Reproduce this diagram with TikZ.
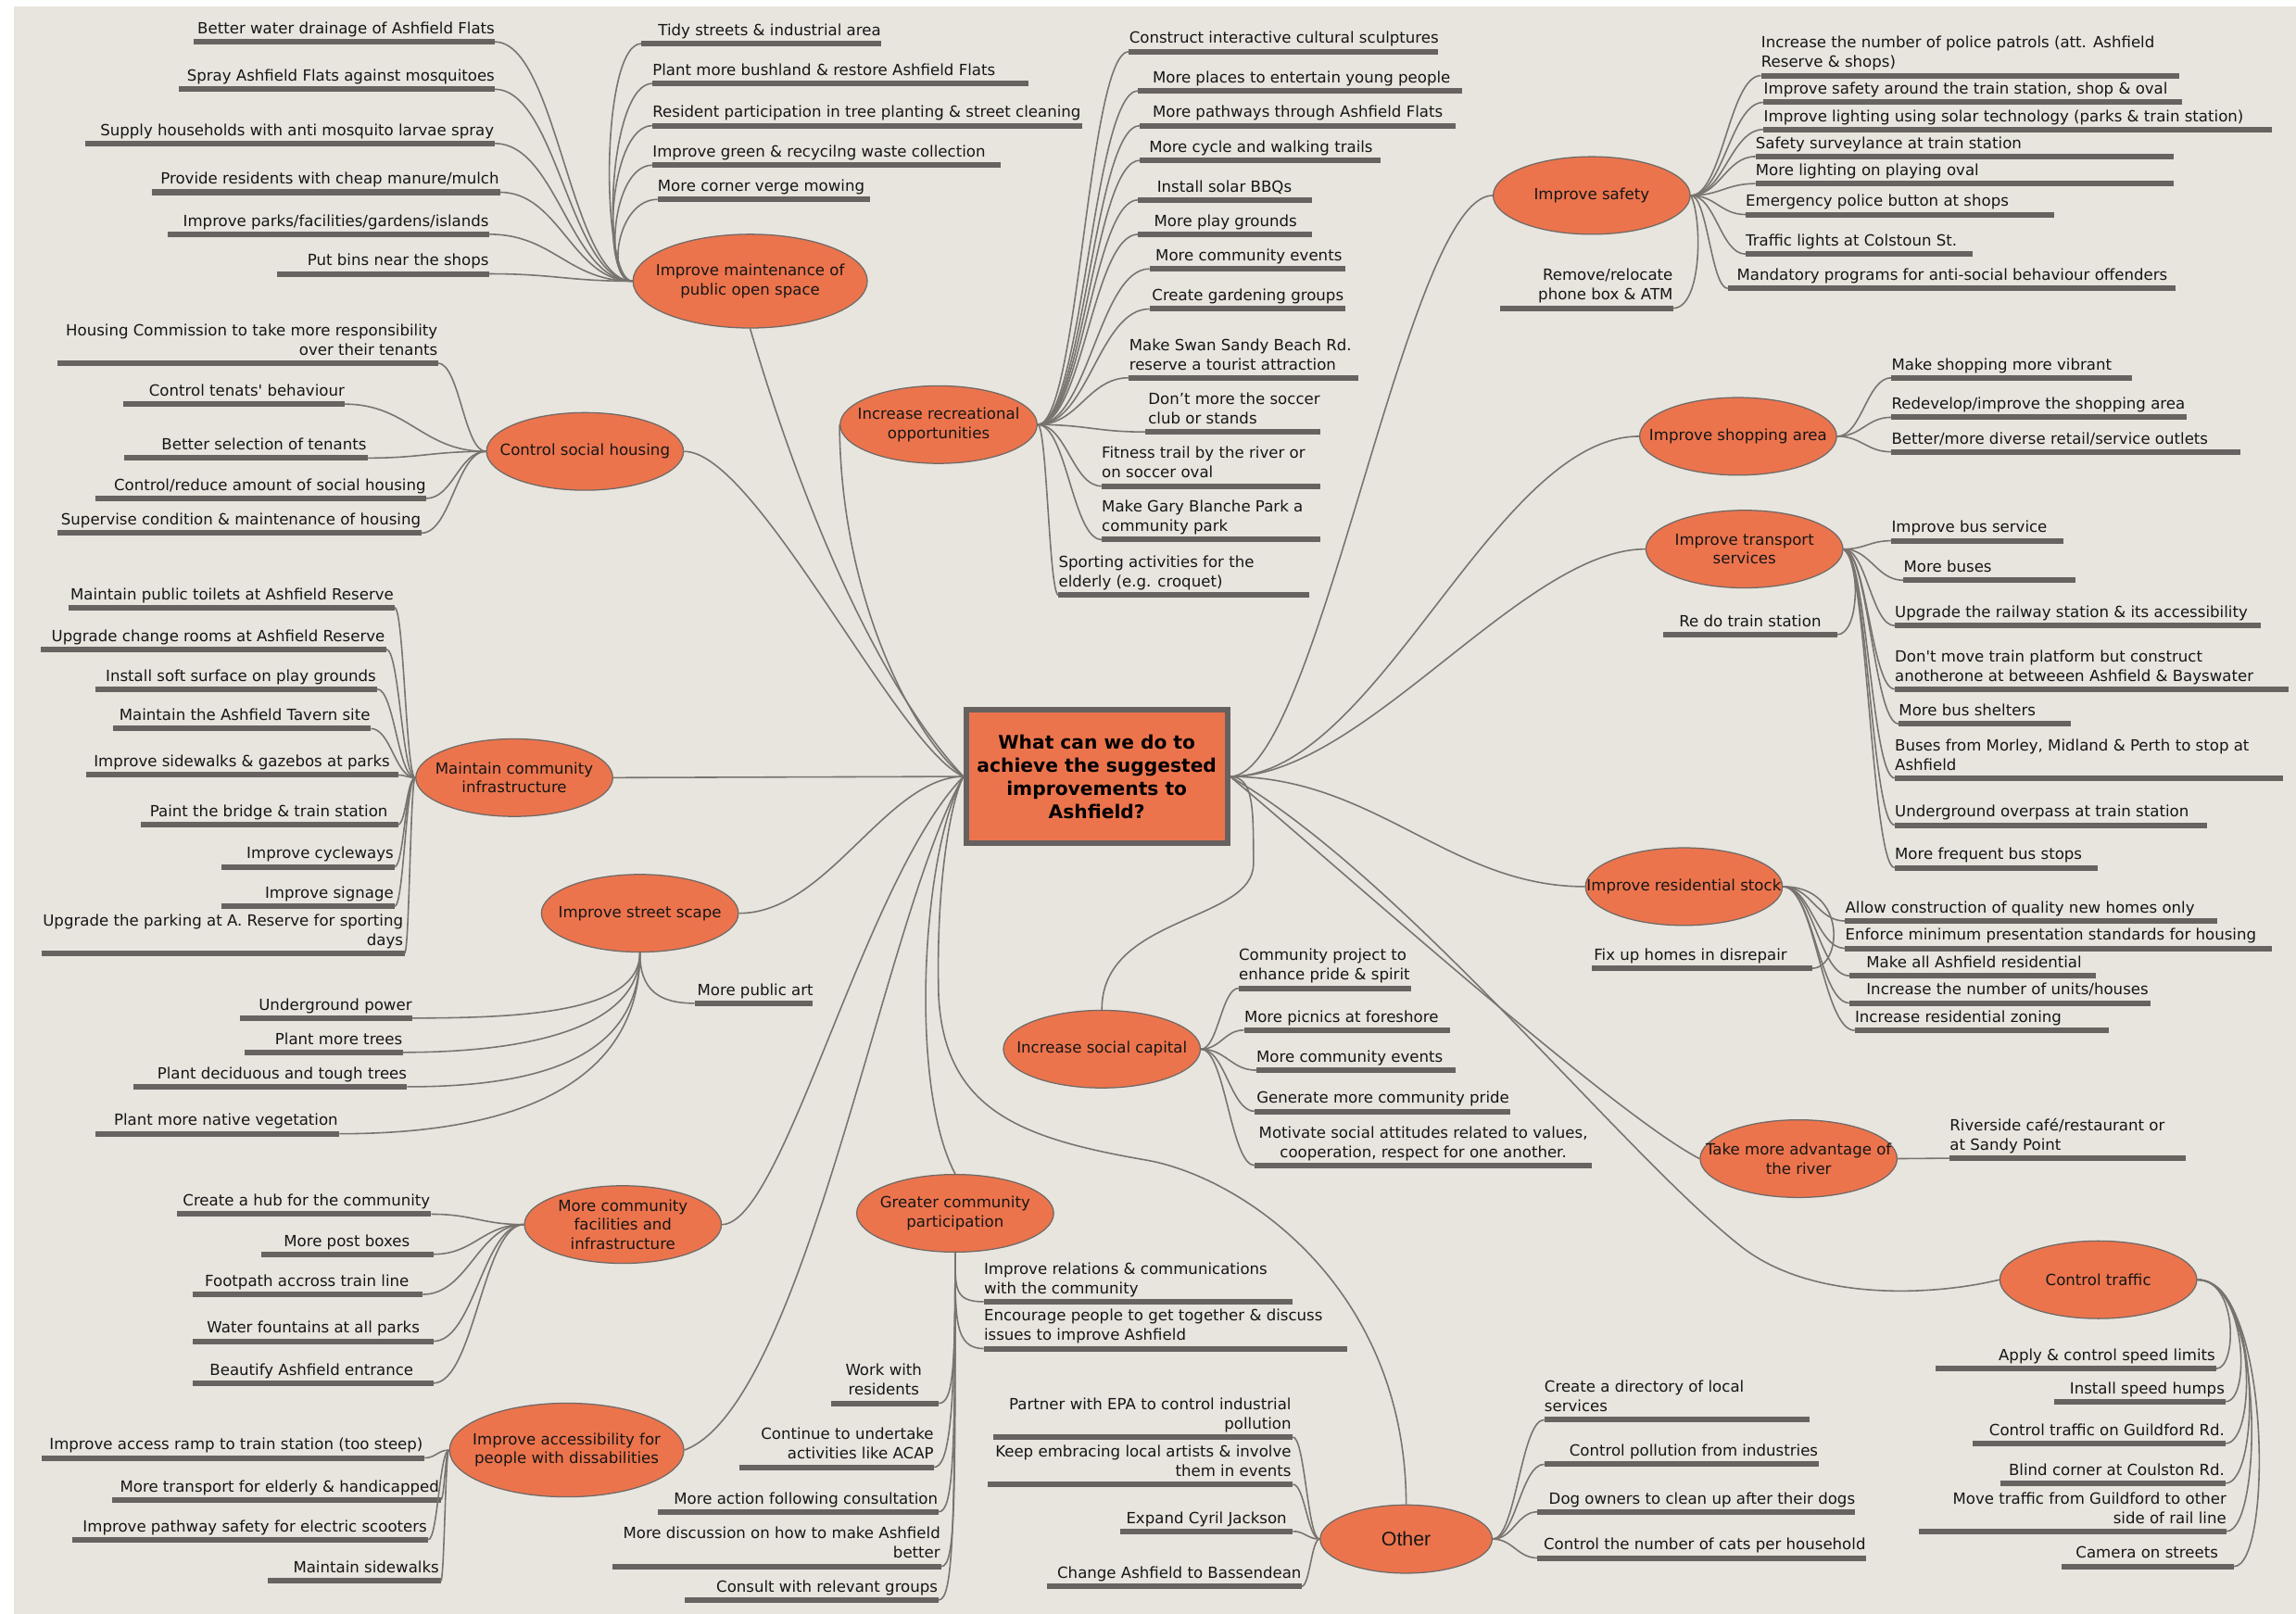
\documentclass[tikz,border=0pt]{standalone}
\usepackage{fontspec}
\setmainfont{DejaVu Sans}
\newfontfamily\otherfont{Liberation Sans}
\usetikzlibrary{shapes.geometric,calc}
\definecolor{bgc}{RGB}{232,228,222}
\definecolor{orng}{RGB}{236,116,77}
\definecolor{brd}{RGB}{112,106,102}
\definecolor{connc}{RGB}{120,115,111}
\definecolor{ulc}{RGB}{104,99,97}
\definecolor{txtc}{RGB}{22,22,22}
\definecolor{cbd}{RGB}{102,97,95}
\pgfdeclarelayer{bg}
\pgfsetlayers{bg,main}
\newcommand\lstr{\rule[-2.7pt]{0pt}{2.7pt}}
\tikzset{
  leaftxt/.style={font=\fontsize{10.5}{13.3}\selectfont, inner sep=0pt, text=txtc},
  lw/.style={anchor=south west, align=left},
  le/.style={anchor=south east, align=right},
  lc/.style={anchor=south, align=center},
  uline/.style={draw=ulc, line width=3.8pt},
  conn/.style={draw=connc, line width=1pt},
  br/.style={ellipse, draw=brd, line width=0.8pt, fill=orng, inner sep=0pt, minimum width=134.5pt, minimum height=53pt},
  bigbr/.style={br, minimum width=160pt, minimum height=64pt},
  brt/.style={font=\fontsize{10.5}{13}\selectfont, align=center, inner sep=0pt, text=txtc},
}
% leaf: name, x1, x2, underline y, text x, style, text
\newcommand\lfx[7]{%
  \coordinate (#1L) at (#2,#4);
  \coordinate (#1R) at (#3,#4);
  \begin{pgfonlayer}{bg}\draw[uline] (#1L) -- (#1R);\end{pgfonlayer}
  \node[leaftxt,#6] (#1) at (#5,#4-2.6) {#7\lstr};
}
\newcommand\scn[3][0.45]{\draw[conn] let \p1=(#2), \p2=(#3), \n1={#1*(\x2-\x1)}, \n2={-#1*(\x2-\x1)} in (\p1) .. controls +(\n1,0) and +(\n2,0) .. (\p2);}
\newcommand\ccn[4]{\draw[conn] (#1) .. controls +(#3) and +(#4) .. (#2);}
\begin{document}
\begin{tikzpicture}[x=1pt,y=-1pt]
\useasboundingbox (0,0) rectangle (1568,1102);
\begin{pgfonlayer}{bg}
\fill[white] (0,0) rectangle (1568,1102);
\fill[bgc] (9.5,4.2) rectangle (1568,1102);
\end{pgfonlayer}

% ---------- main branches ----------
\node[bigbr] (b1) at (512.3,192) {};
\node[brt] (b1t) at (b1) {Improve maintenance of\\public open space};
\node[br] (b2) at (399.5,308.3) {};
\node[brt] (b2t) at (b2) {Control social housing};
\node[br] (b3) at (351.2,531.1) {};
\node[brt] (b3t) at (b3) {Maintain community\\infrastructure};
\node[br] (b4) at (437,623.7) {};
\node[brt] (b4t) at (b4) {Improve street scape};
\node[br] (b5) at (425.4,836.3) {};
\node[brt] (b5t) at (b5) {More community\\facilities and\\infrastructure};
\node[bigbr] (b6) at (387,990.3) {};
\node[brt] (b6t) at (b6) {Improve accessibility for\\people with dissabilities};
\node[br] (b7) at (641,290) {};
\node[brt] (b7t) at (b7) {Increase recreational\\opportunities};
\node[br] (b8) at (652.3,828.6) {};
\node[brt] (b8t) at (b8) {Greater community\\participation};
\node[br] (b9) at (752.5,716.5) {};
\node[brt] (b9t) at (b9) {Increase social capital};
\node[br, minimum width=117.4pt, minimum height=46.6pt] (b10) at (960.3,1051.1) {};
\node[brt, font=\otherfont\fontsize{13.5}{15}\selectfont] (b10t) at (b10) {Other};
\node[br] (b11) at (1087,133.5) {};
\node[brt] (b11t) at (b11) {Improve safety};
\node[br] (b12) at (1187,298) {};
\node[brt] (b12t) at (b12) {Improve shopping area};
\node[br] (b13) at (1191.3,375) {};
\node[brt] (b13t) at (b13) {Improve transport\\services};
\node[br] (b14) at (1150,605.5) {};
\node[brt] (b14t) at (b14) {Improve residential stock};
\node[br] (b15) at (1228.3,791.3) {};
\node[brt] (b15t) at (b15) {Take more advantage of\\the river};
\node[br] (b16) at (1433,874) {};
\node[brt] (b16t) at (b16) {Control traffic};

% ---------- centre ----------
\node[draw=cbd, line width=3.8pt, fill=orng, minimum width=178.2pt, minimum height=91.6pt, inner sep=0pt, text=black,
  font=\bfseries\fontsize{12.8}{15.8}\selectfont, align=center] (c) at (749,530.3)
  {What can we do to\\achieve the suggested\\improvements to\\Ashfield?};

\coordinate (ow1) at (784.6,792.6);
\coordinate (ow2) at (641,680);
\coordinate (sw1) at (856,590);
\coordinate (tw) at (1190,852);

% ---------- leaves ----------
\lfx{a1}{132.5}{338}{28.6}{338}{le}{Better water drainage of Ashfield Flats}
\lfx{a2}{122}{338}{61}{338}{le}{Spray Ashfield Flats against mosquitoes}
\lfx{a3}{58}{338}{98}{337.5}{le}{Supply households with anti mosquito larvae spray}
\lfx{a4}{103.5}{341.5}{131.3}{341}{le}{Provide residents with cheap manure/mulch}
\lfx{a5}{114.5}{334}{160}{334}{le}{Improve parks/facilities/gardens/islands}
\lfx{a6}{189}{334}{187}{334}{le}{Put bins near the shops}
\lfx{a7}{438}{601.8}{29.8}{449.3}{lw}{Tidy streets \& industrial area}
\lfx{a8}{445.5}{702.3}{57}{445.5}{lw}{Plant more bushland \& restore Ashfield Flats}
\lfx{a9}{445.5}{739.3}{85.8}{445.5}{lw}{Resident participation in tree planting \& street cleaning}
\lfx{a10}{445.5}{683.5}{112.8}{445.5}{lw}{Improve green \& recycilng waste collection}
\lfx{a11}{449}{594.3}{136.2}{449}{lw}{More corner verge mowing}

\lfx{c1}{39}{299}{248}{299}{le}{Housing Commission to take more responsibility\\over their tenants}
\lfx{c2}{84}{235.5}{276}{235.5}{le}{Control tenats\textquotesingle{} behaviour}
\lfx{c3}{85}{251}{312.8}{250.5}{le}{Better selection of tenants}
\lfx{c4}{65}{291}{340.4}{291}{le}{Control/reduce amount of social housing}
\lfx{c5}{39}{288}{364}{287.5}{le}{Supervise condition \& maintenance of housing}

\lfx{d1}{46.8}{269.5}{415}{269}{le}{Maintain public toilets at Ashfield Reserve}
\lfx{d2}{28}{263.8}{443.4}{263}{le}{Upgrade change rooms at Ashfield Reserve}
\lfx{d3}{65}{257.5}{470.6}{257}{le}{Install soft surface on play grounds}
\lfx{d4}{77.5}{253.3}{497.6}{253}{le}{Maintain the Ashfield Tavern site}
\lfx{d5}{58.8}{271.8}{529.3}{266.5}{le}{Improve sidewalks \& gazebos at parks}
\lfx{d6}{96}{271.8}{563.2}{265}{le}{Paint the bridge \& train station}
\lfx{d7}{151.5}{269.5}{592}{269}{le}{Improve cycleways}
\lfx{d8}{151.5}{269.5}{619}{269}{le}{Improve signage}
\lfx{d9}{28.3}{276.3}{651}{275.5}{le}{Upgrade the parking at A. Reserve for sporting\\days}

\lfx{e1}{474.3}{554.8}{685.2}{476}{lw}{More public art}
\lfx{e2}{163.8}{281.5}{695.3}{281.5}{le}{Underground power}
\lfx{e3}{167}{275}{718.7}{275}{le}{Plant more trees}
\lfx{e4}{91}{278}{742.2}{278}{le}{Plant deciduous and tough trees}
\lfx{e5}{65}{231.8}{774.3}{231}{le}{Plant more native vegetation}

\lfx{f1}{121}{294.5}{829.2}{294}{le}{Create a hub for the community}
\lfx{f2}{178.5}{296}{856.6}{280}{le}{More post boxes}
\lfx{f3}{131.8}{288.8}{884}{279.5}{le}{Footpath accross train line}
\lfx{f4}{131.8}{296}{916}{286.8}{le}{Water fountains at all parks}
\lfx{f5}{131.8}{296}{944.6}{282.5}{le}{Beautify Ashfield entrance}

\lfx{g1}{28.3}{290}{995.7}{289}{le}{Improve access ramp to train station (too steep)}
\lfx{g2}{76.5}{301}{1024.3}{300}{le}{More transport for elderly \& handicapped}
\lfx{g3}{49.5}{292.5}{1051.5}{291.8}{le}{Improve pathway safety for electric scooters}
\lfx{g4}{183}{301}{1079.8}{300}{le}{Maintain sidewalks}

\lfx{h1}{771}{982.1}{35.2}{771}{lw}{Construct interactive cultural sculptures}
\lfx{h2}{777.3}{998.4}{62}{787}{lw}{More places to entertain young people}
\lfx{h3}{778.5}{994}{85.8}{787}{lw}{More pathways through Ashfield Flats}
\lfx{h4}{778.5}{942.6}{109.5}{784.6}{lw}{More cycle and walking trails}
\lfx{h5}{777.3}{895.8}{136.5}{790}{lw}{Install solar BBQs}
\lfx{h6}{777.3}{895.8}{160}{788}{lw}{More play grounds}
\lfx{h7}{785}{918.6}{183.6}{789}{lw}{More community events}
\lfx{h8}{785}{919}{211}{786.6}{lw}{Create gardening groups}
\lfx{h9}{771}{927.4}{258}{771}{lw}{Make Swan Sandy Beach Rd.\\reserve a tourist attraction}
\lfx{h10}{782}{901.4}{295}{784}{lw}{Don’t more the soccer\\club or stands}
\lfx{h11}{752.3}{901.4}{332}{752.3}{lw}{Fitness trail by the river or\\on soccer oval}
\lfx{h12}{752.3}{901.4}{368.5}{752.3}{lw}{Make Gary Blanche Park a\\community park}
\lfx{h13}{722.8}{893.9}{406.4}{722.8}{lw}{Sporting activities for the\\elderly (e.g. croquet)}

\lfx{i1}{671.8}{883}{889}{671.8}{lw}{Improve relations \& communications\\with the community}
\lfx{i2}{671.8}{919.9}{921}{671.8}{lw}{Encourage people to get together \& discuss\\issues to improve Ashfield}
\lfx{i3}{567.3}{641}{958.4}{603.5}{lc}{Work with\\residents}
\lfx{i4}{504.8}{637.8}{1002}{637.8}{le}{Continue to undertake\\activities like ACAP}
\lfx{i5}{449.3}{641}{1032.5}{640.6}{le}{More action following consultation}
\lfx{i6}{418.5}{642.8}{1069.8}{642.3}{le}{More discussion on how to make Ashfield\\better}
\lfx{i7}{467.8}{641}{1092.7}{640.6}{le}{Consult with relevant groups}

\lfx{j1}{845.9}{963.4}{674.9}{845.9}{lw}{Community project to\\enhance pride \& spirit}
\lfx{j2}{849.6}{990}{703.5}{849.6}{lw}{More picnics at foreshore}
\lfx{j3}{857.9}{994}{730.9}{857.9}{lw}{More community events}
\lfx{j4}{857}{1031.4}{759}{858}{lw}{Generate more community pride}
\lfx{j5}{857}{1087}{796}{972}{lc}{Motivate social attitudes related to values,\\cooperation, respect for one another.}

\lfx{k1}{678.5}{882.9}{981.4}{882}{le}{Partner with EPA to control industrial\\pollution}
\lfx{k2}{674.8}{882.9}{1013.7}{882}{le}{Keep embracing local artists \& involve\\them in events}
\lfx{k3}{764.8}{882.9}{1045.8}{878.9}{le}{Expand Cyril Jackson}
\lfx{k4}{715.3}{888.9}{1083.4}{888.9}{le}{Change Ashfield to Bassendean}
\lfx{k5}{1054.6}{1235.6}{969.6}{1054.6}{lw}{Create a directory of local\\services}
\lfx{k6}{1054.6}{1242.1}{1000}{1071.6}{lw}{Control pollution from industries}
\lfx{k7}{1050}{1267}{1032.5}{1057.6}{lw}{Dog owners to clean up after their dogs}
\lfx{k8}{1050}{1274.6}{1064}{1054}{lw}{Control the number of cats per household}

\lfx{l1}{1202.6}{1488}{51.6}{1202.6}{lw}{Increase the number of police patrols (att. Ashfield\\Reserve \& shops)}
\lfx{l2}{1204.4}{1490}{69.9}{1204.4}{lw}{Improve safety around the train station, shop \& oval}
\lfx{l3}{1204.4}{1551.4}{88.4}{1204.4}{lw}{Improve lighting using solar technology (parks \& train station)}
\lfx{l4}{1198.8}{1484.4}{106.9}{1198.8}{lw}{Safety surveylance at train station}
\lfx{l5}{1198.8}{1484.4}{125.4}{1198.8}{lw}{More lighting on playing oval}
\lfx{l6}{1192}{1402.6}{146.5}{1192}{lw}{Emergency police button at shops}
\lfx{l7}{1192}{1347}{173.5}{1192}{lw}{Traffic lights at Colstoun St.}
\lfx{l8}{1180}{1486}{197}{1186}{lw}{Mandatory programs for anti-social behaviour offenders}
\lfx{l9}{1024.6}{1142.6}{210.5}{1142.6}{le}{Remove/relocate\\phone box \& ATM}

\lfx{m1}{1291.6}{1456}{258}{1291.6}{lw}{Make shopping more vibrant}
\lfx{m2}{1291.6}{1493}{285}{1291.6}{lw}{Redevelop/improve the shopping area}
\lfx{m3}{1291.6}{1530}{308.6}{1291.6}{lw}{Better/more diverse retail/service outlets}

\lfx{n1}{1291.6}{1409}{369.3}{1291.6}{lw}{Improve bus service}
\lfx{n2}{1299.9}{1417.4}{396.3}{1299.9}{lw}{More buses}
\lfx{n3}{1293.9}{1543.9}{427.3}{1293.9}{lw}{Upgrade the railway station \& its accessibility}
\lfx{n4}{1293.9}{1562.6}{470.6}{1293.9}{lw}{Don\textquotesingle{}t move train platform but construct\\anotherone at betweeen Ashfield \& Bayswater}
\lfx{n5}{1296.6}{1414.4}{494.3}{1296.6}{lw}{More bus shelters}
\lfx{n6}{1293.9}{1558.9}{531.4}{1293.9}{lw}{Buses from Morley, Midland \& Perth to stop at\\Ashfield}
\lfx{n7}{1293.9}{1507}{563.5}{1293.9}{lw}{Underground overpass at train station}
\lfx{n8}{1293.9}{1432.6}{592.6}{1293.9}{lw}{More frequent bus stops}
\lfx{n9}{1136}{1254.6}{433.4}{1243.9}{le}{Re do train station}

\lfx{o1}{1260}{1514.4}{629}{1260}{lw}{Allow construction of quality new homes only}
\lfx{o2}{1260}{1551.4}{647.7}{1260}{lw}{Enforce minimum presentation standards for housing}
\lfx{o3}{1263}{1431.4}{666.4}{1274.4}{lw}{Make all Ashfield residential}
\lfx{o4}{1263}{1468.6}{685}{1274.4}{lw}{Increase the number of units/houses}
\lfx{o5}{1266.6}{1440}{703.7}{1266.6}{lw}{Increase residential zoning}
\lfx{o6}{1087}{1237.6}{661.3}{1220.6}{le}{Fix up homes in disrepair}

\lfx{p1}{1331.4}{1492.6}{791}{1331.4}{lw}{Riverside café/restaurant or\\at Sandy Point}

\lfx{q1}{1321.9}{1513.6}{934.7}{1513}{le}{Apply \& control speed limits}
\lfx{q2}{1403}{1519.9}{957.2}{1519.4}{le}{Install speed humps}
\lfx{q3}{1347.4}{1519.9}{985.8}{1519.4}{le}{Control traffic on Guildford Rd.}
\lfx{q4}{1366}{1519.9}{1013}{1519.4}{le}{Blind corner at Coulston Rd.}
\lfx{q5}{1310.6}{1520.6}{1045.8}{1520.6}{le}{Move traffic from Guildford to other\\side of rail line}
\lfx{q6}{1408}{1525.6}{1069.8}{1515}{le}{Camera on streets}

% ---------- connectors ----------
\begin{pgfonlayer}{bg}
% centre to branches
\draw[conn] (b1.south) .. controls (540,320) and (592,460) .. (c.west);
\draw[conn] (b2.east) .. controls (516.5,308) and (613,511) .. (c.west);
\draw[conn] (b3.east) -- (c.west);
\draw[conn] (b4.east) .. controls (565,624) and (605,531) .. (c.west);
\draw[conn] (b5.east) .. controls (535,836) and (590,600) .. (c.west);
\draw[conn] (b6.east) .. controls (550,960) and (605,620) .. (c.west);
\draw[conn] (b7.west) .. controls (574,410) and (625,505) .. (c.west);
\draw[conn] (b8.north) .. controls (620,740) and (630,580) .. (c.west);
\draw[conn] (b10.north) .. controls (960,880) and (850,805) .. (ow1) .. controls (700,778) and (645,760) .. (ow2) .. controls (639,600) and (650,545) .. (c.west);
\draw[conn] (c.east) .. controls (856,531) and (856,550) .. (sw1) .. controls (856,630) and (752,625) .. (b9.north);
\draw[conn] (c.east) .. controls (900,531) and (960,133.5) .. (b11.west);
\draw[conn] (c.east) .. controls (940,531) and (1020,298) .. (b12.west);
\draw[conn] (c.east) .. controls (930,531) and (1040,375) .. (b13.west);
\draw[conn] (c.east) .. controls (940,531) and (990,605.5) .. (b14.west);
\draw[conn] (c.east) .. controls (900,580) and (1100,760) .. (b15.west);
\draw[conn] (c.east) .. controls (960,600) and (1110,790) .. (tw) .. controls (1238,889) and (1320,885) .. (b16.west);

% branch 1
\scn{b1.west}{a1R}\scn{b1.west}{a2R}\scn{b1.west}{a3R}
\scn{b1.west}{a4R}\scn{b1.west}{a5R}\scn{b1.west}{a6R}
\ccn{b1.west}{a7L}{-22,0}{-28,0}
\ccn{b1.west}{a8L}{-22,0}{-30,0}
\ccn{b1.west}{a9L}{-22,0}{-30,0}
\ccn{b1.west}{a10L}{-20,0}{-28,0}
\ccn{b1.west}{a11L}{-18,0}{-28,0}
% branch 2
\scn{b2.west}{c1R}\scn{b2.west}{c2R}\scn{b2.west}{c3R}\scn{b2.west}{c4R}\scn{b2.west}{c5R}
% branch 3
\scn{b3.west}{d1R}\scn{b3.west}{d2R}\scn{b3.west}{d3R}\scn{b3.west}{d4R}\scn{b3.west}{d5R}
\scn{b3.west}{d6R}\scn{b3.west}{d7R}\scn{b3.west}{d8R}\scn{b3.west}{d9R}
% branch 4
\ccn{b4.south}{e1L}{0,25}{-25,0}
\ccn{b4.south}{e2R}{0,40}{80,0}
\ccn{b4.south}{e3R}{0,50}{90,0}
\ccn{b4.south}{e4R}{0,70}{95,0}
\ccn{b4.south}{e5R}{0,90}{120,0}
% branch 5
\scn{b5.west}{f1R}\scn{b5.west}{f2R}\scn{b5.west}{f3R}\scn{b5.west}{f4R}\scn{b5.west}{f5R}
% branch 6
\scn{b6.west}{g1R}\scn{b6.west}{g2R}\scn{b6.west}{g3R}\scn{b6.west}{g4R}
% branch 7
\scn{b7.east}{h1L}\scn{b7.east}{h2L}\scn{b7.east}{h3L}\scn{b7.east}{h4L}\scn{b7.east}{h5L}
\scn{b7.east}{h6L}\scn{b7.east}{h7L}\scn{b7.east}{h8L}\scn{b7.east}{h9L}\scn{b7.east}{h10L}
\scn{b7.east}{h11L}\scn{b7.east}{h12L}\scn{b7.east}{h13L}
% branch 8
\ccn{b8.south}{i1L}{0,25}{-20,0}
\ccn{b8.south}{i2L}{0,45}{-20,0}
\ccn{b8.south}{i3R}{0,80}{10,0}
\ccn{b8.south}{i4R}{0,115}{10,0}
\ccn{b8.south}{i5R}{0,140}{10,0}
\ccn{b8.south}{i6R}{0,170}{10,0}
\ccn{b8.south}{i7R}{0,190}{10,0}
% branch 9
\scn{b9.east}{j1L}\scn{b9.east}{j2L}\scn{b9.east}{j3L}\scn{b9.east}{j4L}\scn{b9.east}{j5L}
% branch 10
\scn{b10.west}{k1R}\scn{b10.west}{k2R}\scn{b10.west}{k3R}\scn{b10.west}{k4R}
\scn{b10.east}{k5L}\scn{b10.east}{k6L}\scn{b10.east}{k7L}\scn{b10.east}{k8L}
% branch 11
\scn{b11.east}{l1L}\scn{b11.east}{l2L}\scn{b11.east}{l3L}\scn{b11.east}{l4L}
\scn{b11.east}{l5L}\scn{b11.east}{l6L}\scn{b11.east}{l7L}\scn{b11.east}{l8L}
\ccn{b11.east}{l9R}{8,15}{20,0}
% branch 12
\scn{b12.east}{m1L}\scn{b12.east}{m2L}\scn{b12.east}{m3L}
% branch 13
\scn{b13.east}{n1L}\scn{b13.east}{n2L}\scn{b13.east}{n3L}\scn{b13.east}{n4L}
\scn{b13.east}{n5L}\scn{b13.east}{n6L}\scn{b13.east}{n7L}\scn{b13.east}{n8L}
\ccn{b13.east}{n9R}{12,10}{15,0}
% branch 14
\scn{b14.east}{o1L}\scn{b14.east}{o2L}\scn{b14.east}{o3L}\scn{b14.east}{o4L}\scn{b14.east}{o5L}
\ccn{b14.east}{o6R}{45,0}{20,0}
% branch 15
\draw[conn] (b15.east) -- (p1L);
% branch 16
\ccn{b16.east}{q1R}{28,0}{14,0}
\ccn{b16.east}{q2R}{33,0}{18,0}
\ccn{b16.east}{q3R}{40,0}{22,0}
\ccn{b16.east}{q4R}{44,0}{24,0}
\ccn{b16.east}{q5R}{46,0}{25,0}
\ccn{b16.east}{q6R}{50,0}{27,0}
\end{pgfonlayer}
\end{tikzpicture}
\end{document}
